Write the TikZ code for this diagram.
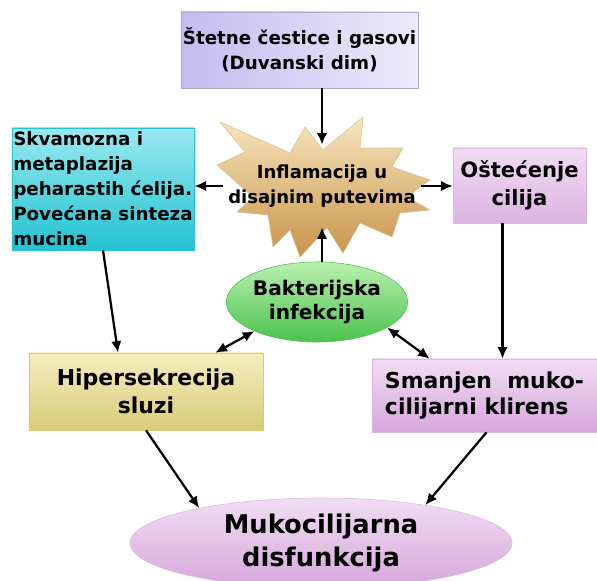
\documentclass[tikz,border=0pt]{standalone}
\usepackage{fontspec}
\setmainfont{DejaVu Sans}
\usetikzlibrary{arrows.meta,shapes.geometric,calc}
\definecolor{lavL}{HTML}{EEEBFB}
\definecolor{lavD}{HTML}{C3BCEF}
\definecolor{cyaL}{HTML}{9AE9EF}
\definecolor{cyaD}{HTML}{22C2D2}
\definecolor{vioL}{HTML}{F1DDF3}
\definecolor{vioD}{HTML}{D6A6DB}
\definecolor{khaL}{HTML}{F5EEBF}
\definecolor{khaD}{HTML}{D8CB78}
\definecolor{grnL}{HTML}{B9F0AE}
\definecolor{grnD}{HTML}{4CC24F}
\definecolor{strL}{HTML}{F6E6BE}
\definecolor{strD}{HTML}{C8944A}
\newcommand\fsz[2]{\fontsize{#1}{#2}\selectfont\bfseries}

\begin{document}
\begin{tikzpicture}[x=0.025cm,y=-0.025cm,
    box/.style={rectangle,draw=#1,line width=0.4pt,inner sep=1pt,align=center},
    oval/.style={ellipse,draw=#1,line width=0.4pt,inner sep=0pt,align=center},
    arr/.style={-{Latex[length=2.9mm,width=2.6mm]},line width=1.6pt},
    darr/.style={{Latex[length=2.9mm,width=2.6mm]}-{Latex[length=2.9mm,width=2.6mm]},line width=1.6pt},
  ]
\useasboundingbox (0,0) rectangle (597,580);

% --- the burst behind the inflammation label
\path[top color=strL,bottom color=strD,draw=strD!60] (220,122) -- (290,153) -- (305,127) -- (323,150)
  -- (363,117) -- (360,148) -- (403,148) -- (392,167) -- (430,180) -- (407,197) -- (430,210)
  -- (400,213) -- (392,237) -- (360,223) -- (343,253) -- (327,228) -- (300,257) -- (290,230)
  -- (273,247) -- (268,215) -- (237,212) -- (253,197) -- (217,165) -- (245,152) -- cycle;

% --- nodes
\node[box=lavD!70!gray,left color=lavD,right color=lavL,minimum width=5.925cm,minimum height=1.9cm,
  font=\fsz{13}{17.8}] (dim) at (299.5,50) {Štetne čestice i gasovi\\(Duvanski dim)};
\node[align=center,minimum width=4.325cm,minimum height=2.05cm,font=\fsz{12.8}{17.8}] (infl) at (322,186)
  {Inflamacija u\\disajnim putevima};
\node[box=cyaD,top color=cyaL,bottom color=cyaD,minimum width=4.5cm,minimum height=3.05cm,
  align=left,font=\fsz{13}{17.8}] (metap) at (103,189)
  {Skvamozna i\\metaplazija\\peharastih ćelija.\\Povećana sinteza\\mucina};
\node[box=vioD!80,top color=vioL,bottom color=vioD!85,minimum width=3.325cm,minimum height=1.875cm,
  font=\fsz{15}{20}] (cilija) at (519.5,185.5) {Oštećenje\\cilija};
\node[oval=grnD,top color=grnL,bottom color=grnD,minimum width=4cm,minimum height=2cm,
  font=\fsz{14.3}{17}] (bakt) at (317,302) {Bakterijska\\infekcija};
\node[box=khaD,top color=khaL,bottom color=khaD,minimum width=5.85cm,minimum height=1.925cm,
  font=\fsz{15.6}{20}] (hiper) at (146,391.5) {Hipersekrecija\\sluzi};
\node[box=vioD!80,top color=vioL,bottom color=vioD,minimum width=5.625cm,minimum height=1.825cm,
  align=left,font=\fsz{15.6}{19}] (klirens) at (484.5,395.5) {Smanjen\ \ muko-\\cilijarni klirens};
\node[oval=vioD!80,top color=vioL,bottom color=vioD,minimum width=9.55cm,minimum height=2.25cm,
  font=\fsz{18.3}{23}] (muko) at (321,543) {Mukocilijarna\\disfunkcija};

% --- connectors
\draw[arr] (dim.south -| infl) -- (infl.north);
\draw[arr] (infl.west) -- (infl.west -| metap.east);
\draw[arr] (infl.east) -- (infl.east -| cilija.west);
\draw[arr] (infl |- bakt.north) -- (infl.south);
\draw[arr] (metap.south) -- ($(hiper.north)+(-28,0)$);
\coordinate (cdown) at ($(cilija.south)+(-17,0)$);
\draw[arr] (cdown) -- (cdown |- klirens.north);
\draw[darr] (bakt.205) -- ($(hiper.north east)+(-48,0)$);
\draw[darr] (bakt.340) -- ($(klirens.north west)+(58,0)$);
\draw[arr] (hiper.south) -- (muko.164);
\draw[arr] ($(klirens.south)+(2,0)$) -- (muko.20);

\end{tikzpicture}
\end{document}
